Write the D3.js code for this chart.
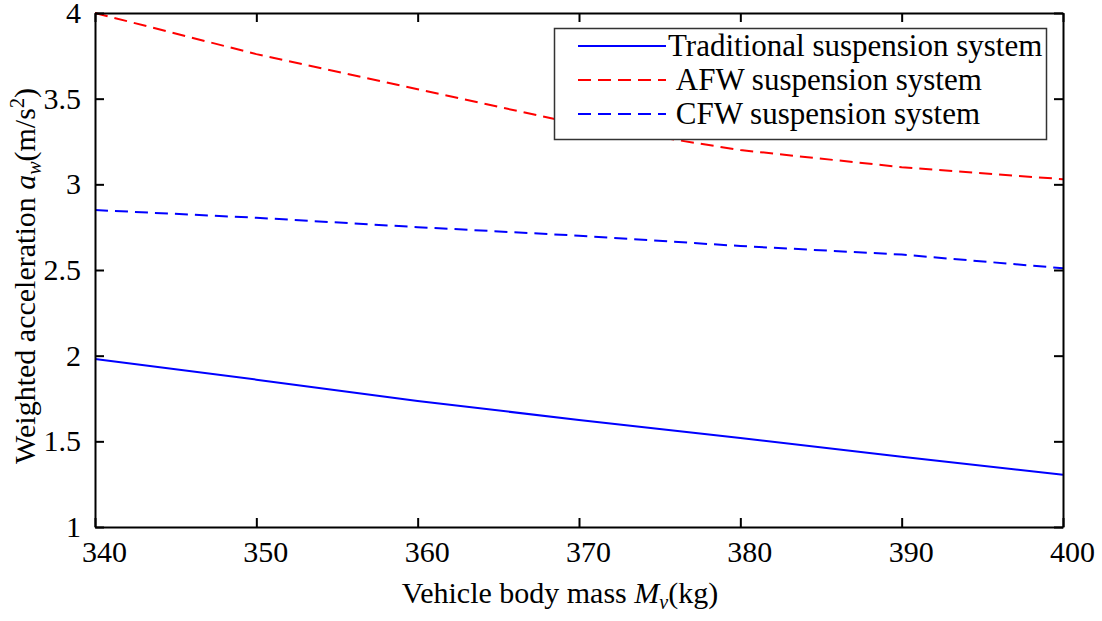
<!DOCTYPE html>
<html>
<head>
<meta charset="utf-8">
<script src="https://cdn.jsdelivr.net/npm/d3@7"></script>
<style>
    body { margin: 0; background: #fff; }
</style>
</head>
<body>
<svg id="chart" width="1102" height="621"></svg>
<script>
const massList = [340, 350, 360, 370, 380, 390, 400]
const traditionalValues = [1.98, 1.86, 1.735, 1.625, 1.52, 1.41, 1.305]
const afwValues = [4.00, 3.76, 3.555, 3.35, 3.20, 3.10, 3.03]
const cfwValues = [2.85, 2.805, 2.75, 2.70, 2.64, 2.59, 2.51]

const xTickValues = [340, 350, 360, 370, 380, 390, 400]
const yTickValues = [1, 1.5, 2, 2.5, 3, 3.5, 4]
const yTickLabels = ['1', '1.5', '2', '2.5', '3', '3.5', '4']

const seriesNames = ['Traditional suspension system', '\u00a0AFW suspension system', '\u00a0CFW suspension system']

const seriesList = [
    { name: seriesNames[0], values: traditionalValues, color: '#0000ff', dash: null },
    { name: seriesNames[1], values: afwValues, color: '#ff0000', dash: '13,7' },
    { name: seriesNames[2], values: cfwValues, color: '#0000ff', dash: '13,7' }
]

const FONT = "'Liberation Serif', 'Times New Roman', serif"

const style = {
    left: 95,
    right: 1063,
    top: 13,
    bottom: 527,
    tickLength: 9,
    fontSize: 30
}

const svg = d3.select('#chart')
    .style('font-family', FONT)

const x = d3.scaleLinear().domain([340, 400]).range([style.left, style.right])
const y = d3.scaleLinear().domain([1, 4]).range([style.bottom, style.top])

// data lines first, axes box drawn over them
const line = d3.line()
    .x((d, i) => x(massList[i]))
    .y(d => y(d))

svg.append('g')
    .selectAll('path')
    .data(seriesList)
    .join('path')
    .attr('d', d => line(d.values))
    .attr('fill', 'none')
    .attr('stroke', d => d.color)
    .attr('stroke-width', 2)
    .attr('stroke-dasharray', d => d.dash)

// axes: inward ticks on all four sides, MATLAB box style
const axisBottom = d3.axisBottom(x).tickValues(xTickValues).tickSizeInner(-style.tickLength).tickSizeOuter(0).tickPadding(14)
const axisTop = d3.axisTop(x).tickValues(xTickValues).tickSizeInner(-style.tickLength).tickSizeOuter(0).tickFormat('')
const axisLeft = d3.axisLeft(y).tickValues(yTickValues).tickSizeInner(-style.tickLength).tickSizeOuter(0).tickPadding(14)
    .tickFormat((d, i) => yTickLabels[i])
const axisRight = d3.axisRight(y).tickValues(yTickValues).tickSizeInner(-style.tickLength).tickSizeOuter(0).tickFormat('')

function styleAxis (g) {
    g.attr('font-family', null).attr('font-size', null)
    g.select('.domain').attr('stroke', '#000').attr('stroke-width', 2)
    g.selectAll('.tick line').attr('stroke', '#000').attr('stroke-width', 2)
    g.selectAll('.tick text')
        .style('font-family', FONT)
        .style('font-size', style.fontSize + 'px')
        .attr('fill', '#000')
}

svg.append('g')
    .attr('transform', `translate(0, ${style.bottom})`)
    .call(axisBottom)
    .call(styleAxis)
    .call(g => g.selectAll('.tick text').attr('dx', 9))

svg.append('g')
    .attr('transform', `translate(0, ${style.top})`)
    .call(axisTop)
    .call(styleAxis)

svg.append('g')
    .attr('transform', `translate(${style.left}, 0)`)
    .call(axisLeft)
    .call(styleAxis)

svg.append('g')
    .attr('transform', `translate(${style.right}, 0)`)
    .call(axisRight)
    .call(styleAxis)

// axis titles
const xTitle = svg.append('text')
    .attr('x', 560)
    .attr('y', 603)
    .attr('text-anchor', 'middle')
    .style('font-family', FONT)
    .attr('font-size', style.fontSize)
xTitle.append('tspan').text('Vehicle body mass ')
xTitle.append('tspan').attr('font-style', 'italic').text('M')
xTitle.append('tspan').attr('font-style', 'italic').attr('font-size', 20).attr('dy', 6).text('v')
xTitle.append('tspan').attr('dy', -6).text('(kg)')

const yTitle = svg.append('text')
    .attr('transform', 'translate(35, 276) rotate(-90)')
    .attr('text-anchor', 'middle')
    .style('font-family', FONT)
    .attr('font-size', style.fontSize)
yTitle.append('tspan').text('Weighted acceleration ')
yTitle.append('tspan').attr('font-style', 'italic').text('a')
yTitle.append('tspan').attr('font-style', 'italic').attr('font-size', 20).attr('dy', 6).text('w')
yTitle.append('tspan').attr('dy', -6).text('(m/s')
yTitle.append('tspan').attr('font-size', 20).attr('dy', -11).text('2')
yTitle.append('tspan').attr('dy', 11).text(')')

// legend
const legend = svg.append('g')

legend.append('rect')
    .attr('x', 554.5)
    .attr('y', 28.5)
    .attr('width', 492)
    .attr('height', 111)
    .attr('fill', '#fff')
    .attr('stroke', '#333')
    .attr('stroke-width', 1.5)

const legendRow = legend.selectAll('g.row')
    .data(seriesList)
    .join('g')
    .attr('class', 'row')
    .attr('transform', (d, i) => `translate(0, ${46 + i * 34})`)

legendRow.append('line')
    .attr('x1', 578)
    .attr('x2', 666)
    .attr('stroke', d => d.color)
    .attr('stroke-width', 2)
    .attr('stroke-dasharray', d => d.dash)

legendRow.append('text')
    .attr('x', 668)
    .attr('y', 10)
    .style('font-family', FONT)
    .attr('font-size', 31)
    .text(d => d.name)
</script>
</body>
</html>
